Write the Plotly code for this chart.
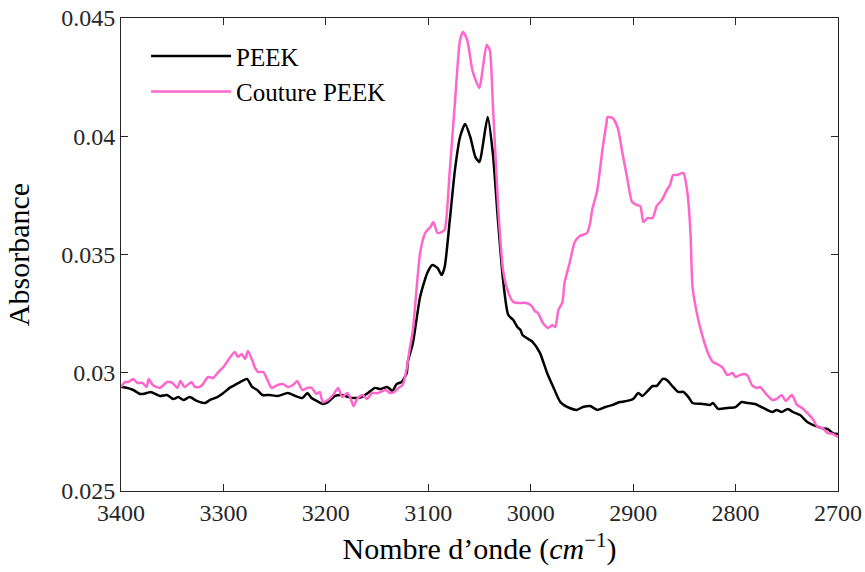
import plotly.graph_objects as go

# IR absorbance spectra, C-H stretching region
wn_peek = [3400, 3394, 3388, 3381, 3375, 3371, 3362, 3355, 3349, 3344, 3339, 3333,
           3326, 3318, 3313, 3306, 3300, 3294, 3289, 3282, 3277, 3272, 3267, 3262,
           3255, 3247, 3237, 3230, 3223, 3218, 3214, 3209, 3203, 3198, 3191, 3184,
           3178, 3172, 3165, 3159, 3152, 3147, 3140, 3135, 3131, 3126, 3123, 3121,
           3120, 3115, 3108, 3101, 3096, 3091, 3087, 3084, 3079, 3074, 3069, 3064,
           3059, 3054, 3050, 3047, 3042, 3037, 3032, 3027, 3022, 3017, 3013, 3010,
           3008, 3001, 2998, 2991, 2984, 2978, 2971, 2962, 2955, 2949, 2942, 2935,
           2927, 2920, 2913, 2906, 2900, 2895, 2891, 2885, 2881, 2877, 2871, 2867,
           2861, 2856, 2851, 2846, 2842, 2832, 2825, 2822, 2817, 2808, 2800, 2794,
           2788, 2781, 2773, 2764, 2760, 2755, 2749, 2744, 2737, 2730, 2722, 2716,
           2710, 2705, 2700]
abs_peek = [0.02941, 0.02936, 0.02927, 0.02910, 0.02914, 0.02919, 0.02902, 0.02906,
            0.02889, 0.02897, 0.02885, 0.02897, 0.02881, 0.02872, 0.02885, 0.02897,
            0.02914, 0.02936, 0.02948, 0.02965, 0.02974, 0.02940, 0.02927, 0.02906,
            0.02906, 0.02902, 0.02914, 0.02902, 0.02893, 0.02914, 0.02893, 0.02881,
            0.02868, 0.02876, 0.02902, 0.02906, 0.02897, 0.02893, 0.02897, 0.02914,
            0.02936, 0.02931, 0.02940, 0.02923, 0.02952, 0.02961, 0.02982, 0.02999,
            0.03045, 0.03126, 0.03320, 0.03422, 0.03456, 0.03443, 0.03413, 0.03447,
            0.03646, 0.03857, 0.03997, 0.04052, 0.03997, 0.03912, 0.03891, 0.03955,
            0.04081, 0.03929, 0.03646, 0.03392, 0.03245, 0.03223, 0.03193, 0.03181,
            0.03160, 0.03139, 0.03130, 0.03084, 0.02999, 0.02940, 0.02876, 0.02851,
            0.02843, 0.02855, 0.02859, 0.02843, 0.02855, 0.02864, 0.02876, 0.02881,
            0.02889, 0.02914, 0.02902, 0.02927, 0.02944, 0.02944, 0.02974, 0.02969,
            0.02940, 0.02919, 0.02919, 0.02897, 0.02872, 0.02868, 0.02864, 0.02872,
            0.02847, 0.02851, 0.02855, 0.02876, 0.02872, 0.02868, 0.02851, 0.02834,
            0.02843, 0.02834, 0.02847, 0.02834, 0.02821, 0.02792, 0.02775, 0.02766,
            0.02762, 0.02745, 0.02741]

wn_couture = [3400, 3396, 3393, 3388, 3384, 3379, 3375, 3373, 3369, 3362, 3355, 3350,
              3345, 3342, 3338, 3331, 3328, 3323, 3320, 3315, 3310, 3305, 3300, 3296,
              3289, 3286, 3282, 3279, 3276, 3272, 3269, 3266, 3261, 3257, 3253, 3247,
              3242, 3237, 3232, 3228, 3223, 3218, 3214, 3209, 3206, 3203, 3198, 3193,
              3188, 3184, 3179, 3176, 3173, 3169, 3164, 3160, 3155, 3149, 3142, 3137,
              3133, 3128, 3125, 3121, 3118, 3115, 3108, 3103, 3098, 3095, 3091, 3087,
              3084, 3079, 3074, 3069, 3066, 3062, 3057, 3053, 3050, 3047, 3043, 3040,
              3037, 3032, 3027, 3022, 3017, 3013, 3004, 2999, 2996, 2993, 2988, 2983,
              2979, 2976, 2973, 2969, 2967, 2962, 2957, 2952, 2945, 2942, 2940, 2935,
              2930, 2926, 2925, 2920, 2915, 2911, 2906, 2901, 2896, 2893, 2890, 2886,
              2881, 2877, 2872, 2867, 2864, 2861, 2857, 2851, 2847, 2844, 2842, 2837,
              2832, 2827, 2822, 2820, 2813, 2808, 2803, 2800, 2796, 2791, 2788, 2784,
              2779, 2776, 2771, 2764, 2760, 2755, 2751, 2745, 2740, 2735, 2730, 2724,
              2720, 2715, 2710, 2705, 2700]
abs_couture = [0.02940, 0.02961, 0.02961, 0.02974, 0.02957, 0.02957, 0.02940, 0.02974,
               0.02948, 0.02936, 0.02961, 0.02957, 0.02936, 0.02965, 0.02940, 0.02961,
               0.02940, 0.02940, 0.02952, 0.02982, 0.02978, 0.03003, 0.03024, 0.03050,
               0.03088, 0.03067, 0.03079, 0.03058, 0.03092, 0.03054, 0.03020, 0.03003,
               0.03003, 0.02969, 0.02936, 0.02948, 0.02952, 0.02940, 0.02948, 0.02965,
               0.02927, 0.02936, 0.02936, 0.02910, 0.02919, 0.02876, 0.02885, 0.02906,
               0.02936, 0.02897, 0.02914, 0.02893, 0.02859, 0.02893, 0.02906, 0.02889,
               0.02914, 0.02914, 0.02927, 0.02914, 0.02919, 0.02940, 0.02948, 0.03020,
               0.03105, 0.03181, 0.03506, 0.03591, 0.03616, 0.03637, 0.03591, 0.03595,
               0.03604, 0.03857, 0.04141, 0.04407, 0.04441, 0.04407, 0.04280, 0.04229,
               0.04204, 0.04280, 0.04386, 0.04365, 0.04141, 0.03718, 0.03434, 0.03341,
               0.03299, 0.03295, 0.03295, 0.03282, 0.03261, 0.03253, 0.03210, 0.03189,
               0.03202, 0.03193, 0.03265, 0.03299, 0.03380, 0.03464, 0.03553, 0.03578,
               0.03591, 0.03633, 0.03688, 0.03773, 0.03942, 0.04056, 0.04081, 0.04077,
               0.04035, 0.03942, 0.03828, 0.03722, 0.03709, 0.03705, 0.03637, 0.03654,
               0.03654, 0.03705, 0.03730, 0.03773, 0.03794, 0.03836, 0.03836, 0.03845,
               0.03760, 0.03591, 0.03363, 0.03236, 0.03151, 0.03084, 0.03045, 0.03041,
               0.03024, 0.02990, 0.02999, 0.02982, 0.02990, 0.02995, 0.02986, 0.02948,
               0.02936, 0.02940, 0.02914, 0.02885, 0.02889, 0.02906, 0.02881, 0.02906,
               0.02864, 0.02851, 0.02830, 0.02800, 0.02771, 0.02766, 0.02745, 0.02741,
               0.02728]

x_ticks = [3400, 3300, 3200, 3100, 3000, 2900, 2800, 2700]
y_ticks = [0.025, 0.03, 0.035, 0.04, 0.045]
y_tick_text = ["0.025", "0.03", "0.035", "0.04", "0.045"]

FONT = "Liberation Serif"
AXIS_COLOR = "#262626"

fig = go.Figure()
fig.add_trace(go.Scatter(x=wn_peek, y=abs_peek, mode="lines", name="PEEK",
                         line=dict(color="black", width=2.5, shape="spline", smoothing=0.6)))
fig.add_trace(go.Scatter(x=wn_couture, y=abs_couture, mode="lines", name="Couture PEEK",
                         line=dict(color="#FF66CC", width=2.5, shape="spline", smoothing=0.6)))

axis_common = dict(showline=True, linecolor=AXIS_COLOR, linewidth=1, mirror="ticks",
                   ticks="inside", ticklen=7, tickcolor=AXIS_COLOR, tickwidth=1,
                   showgrid=False, zeroline=False, automargin=False,
                   tickfont=dict(family=FONT, size=24, color=AXIS_COLOR))

fig.update_xaxes(range=[3400, 2700], tickvals=x_ticks,
                 title=dict(text="Nombre d\u2019onde (<i>cm</i><sup>\u22121</sup>)",
                            font=dict(family=FONT, size=30, color="black"), standoff=13),
                 **axis_common)
fig.update_yaxes(range=[0.025, 0.045], tickvals=y_ticks, ticktext=y_tick_text,
                 title=dict(text="Absorbance", font=dict(family=FONT, size=30, color="black"),
                            standoff=22),
                 **axis_common)

fig.update_layout(
    width=865, height=572,
    margin=dict(l=121, r=27, t=18, b=81),
    paper_bgcolor="white", plot_bgcolor="white",
    showlegend=True,
    legend=dict(x=0.035, y=0.968, xanchor="left", yanchor="top",
                bgcolor="rgba(0,0,0,0)", borderwidth=0,
                font=dict(family=FONT, size=25, color="black"),
                itemwidth=80, tracegroupgap=0),
)

fig.write_html("out.html")
